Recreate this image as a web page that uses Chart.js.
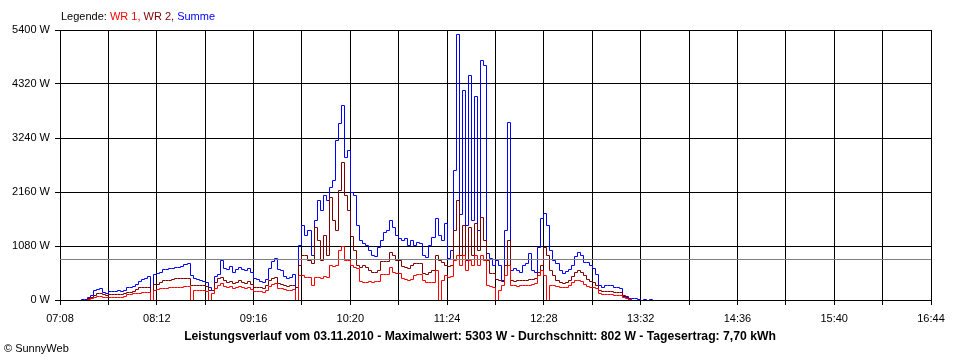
<!DOCTYPE html>
<html><head><meta charset="utf-8">
<script src="https://cdn.jsdelivr.net/npm/chart.js@4"></script>
<style>html,body{margin:0;padding:0;background:#fff;} canvas{display:block}</style>
</head><body>
<canvas id="c" width="960" height="360"></canvas>
<script>
const xTickLabels = ["07:08","08:12","09:16","10:20","11:24","12:28","13:32","14:36","15:40","16:44"];
const yTickValues = [0,1080,2160,3240,4320,5400];
const firstSample = "07:20";
const sampleStepMin = 2;
const wr1 = [
0,0,0,20,40,60,80,80,60,60,
60,60,60,60,60,80,120,120,140,140,
140,160,160,160,0,200,220,240,240,240,
260,260,260,260,260,280,280,0,200,200,
200,200,180,0,140,240,300,340,280,260,
280,240,260,280,260,240,260,220,180,180,
180,160,200,280,320,340,240,240,220,200,
200,220,0,500,500,460,460,300,460,460,
440,480,460,700,680,700,1000,1080,800,800,
700,660,640,380,360,360,380,360,380,380,
520,520,520,660,560,540,540,440,420,400,
420,500,520,520,400,360,360,360,600,0,
400,500,460,480,800,900,700,900,600,800,
700,900,700,900,800,300,280,260,0,200,
300,500,700,300,300,280,300,300,300,300,
320,340,500,600,500,0,300,300,280,260,
260,260,300,360,400,400,380,320,280,260,
260,240,140,120,120,120,110,100,100,100,
60,40,20,0,0,0,0,0,0,0,0];
const wr2 = [
0,0,0,40,60,100,140,140,120,100,
120,120,120,120,120,140,160,160,180,220,
260,260,260,260,0,320,320,360,400,400,
400,420,440,440,440,440,440,300,300,300,
300,300,280,200,200,360,440,460,400,360,
380,340,360,400,360,340,380,320,260,260,
260,240,300,400,440,460,340,320,300,280,
300,300,260,700,900,900,800,740,1460,1200,
800,1300,900,2060,1600,1400,2200,2760,2100,1800,
1260,1000,700,660,700,660,600,560,560,600,
780,780,780,950,900,800,800,680,660,640,
700,740,740,740,540,520,560,600,900,800,
750,700,680,700,1400,2000,900,1500,800,1460,
900,1540,1000,1660,1200,800,540,540,420,400,
380,700,1200,400,380,400,400,400,400,420,
420,440,560,700,1060,900,600,500,400,360,
340,360,400,480,560,600,560,500,420,380,
360,300,200,180,180,180,170,160,160,160,
100,60,20,0,0,0,0,0,0,0,0];
const summe = [
0,20,20,60,100,200,220,240,160,140,
180,180,180,200,180,200,260,260,280,320,
380,420,440,480,0,520,540,560,620,620,
640,640,660,660,680,720,740,500,440,420,
400,380,360,260,200,480,520,800,640,620,
680,560,620,660,620,600,640,560,440,420,
380,360,420,640,780,840,620,600,480,440,
460,520,0,1100,1500,1300,1400,900,1600,2000,
1800,2100,2000,2260,2400,3200,3540,3880,2860,3000,
2140,2100,1500,1200,1140,1100,1000,900,880,1060,
1200,1350,1400,1600,1450,1300,1240,1200,1240,1100,
1200,1100,1160,1140,900,860,1100,1250,1640,1300,
1200,1540,840,1000,2600,5303,1700,4200,1500,4500,
1600,4060,1400,4800,4700,940,840,700,800,700,
400,1400,3560,600,640,600,560,700,740,940,
600,560,1060,1640,1740,1500,1000,800,740,600,
540,580,620,700,880,960,900,760,760,700,
640,520,300,260,300,300,300,260,260,240,
80,80,40,40,40,20,0,20,0,20,0];
const averageW = 802;
const seriesNames = ["WR 1","WR 2","Summe"];
const legendTitle = "Legende:";
const titleText = "Leistungsverlauf vom 03.11.2010 - Maximalwert: 5303 W - Durchschnitt: 802 W - Tagesertrag: 7,70 kWh";
const copyrightText = "\u00A9 SunnyWeb";

const colors = ["#ff0000","#800000","#0000ff"];
const FONT = "'Liberation Sans', Arial, sans-serif";

function toMin(s){const p=s.split(':').map(Number);return p[0]*60+p[1];}
const axisMin = toMin(xTickLabels[0]);
const axisMax = toMin(xTickLabels[xTickLabels.length-1]);
const labelStep = toMin(xTickLabels[1]) - axisMin;
const gridStep = labelStep/2;
const t0 = toMin(firstSample);
const pts = arr => arr.map((v,i)=>({x:t0+i*sampleStepMin, y:v}));

// snap line vertices to pixel centres so the 1px lines stay crisp
const snapR = v => Math.floor(v) + 0.5;
const snapTargets = [CanvasRenderingContext2D.prototype];
if (typeof Path2D === 'function') snapTargets.push(Path2D.prototype);
const snap = {
  id:'snap',
  beforeDatasetsDraw(){
    snapTargets.forEach(p=>{
      const m = p.moveTo, l = p.lineTo;
      p.__orig = [m,l];
      p.moveTo = function(x,y){ return m.call(this, snapR(x), snapR(y)); };
      p.lineTo = function(x,y){ return l.call(this, snapR(x), snapR(y)); };
    });
  },
  afterDatasetsDraw(){
    snapTargets.forEach(p=>{ if (p.__orig){ p.moveTo = p.__orig[0]; p.lineTo = p.__orig[1]; delete p.__orig; } });
  }
};

const overlay = {
  id:'overlay',
  afterDatasetsDraw(chart){
    const {ctx, chartArea:a, scales:{y}} = chart;
    const yy = Math.round(y.getPixelForValue(averageW)) - 0.5;
    ctx.save();
    ctx.strokeStyle = '#808080'; ctx.lineWidth = 1;
    ctx.beginPath(); ctx.moveTo(a.left, yy); ctx.lineTo(a.right, yy); ctx.stroke();
    ctx.restore();
  },
  afterDraw(chart){
    const ctx = chart.ctx;
    ctx.save();
    ctx.textBaseline = 'middle';
    ctx.font = "11px " + FONT;
    let x = 61;
    const parts = [[legendTitle + " ", "#000"]];
    seriesNames.forEach((n,i)=>parts.push([n + (i<seriesNames.length-1 ? ", " : ""), colors[i]]));
    parts.forEach(p=>{ ctx.fillStyle=p[1]; ctx.fillText(p[0], x, 17); x += ctx.measureText(p[0]).width; });
    ctx.font = "bold 12.2px " + FONT;
    ctx.fillStyle = '#000';
    ctx.textAlign = 'center';
    ctx.fillText(titleText, 480, 337);
    ctx.textAlign = 'left';
    ctx.font = "11px " + FONT;
    ctx.fillText(copyrightText, 4, 349);
    ctx.restore();
  }
};

new Chart(document.getElementById('c'), {
  type: 'line',
  data: {
    datasets: [
      {label: seriesNames[0], data: pts(wr1), borderColor: colors[0]},
      {label: seriesNames[1], data: pts(wr2), borderColor: colors[1]},
      {label: seriesNames[2], data: pts(summe), borderColor: colors[2]}
    ].map(d=>Object.assign(d,{borderWidth:1, pointRadius:0, stepped:true, fill:false, tension:0}))
  },
  options: {
    responsive: false, animation: false, devicePixelRatio: 1,
    layout: {padding: {left:0, right:29, top:30, bottom:0}},
    plugins: {legend:{display:false}, tooltip:{enabled:false}, title:{display:false}},
    scales: {
      x: {
        type:'linear', min:axisMin, max:axisMax,
        afterBuildTicks(s){ const t=[]; for(let v=axisMin; v<=axisMax; v+=gridStep) t.push({value:v}); s.ticks=t; },
        afterFit(s){ s.height = 60; },
        grid:{color:'#000', lineWidth:1, tickLength:5, tickColor:'#000', drawTicks:true},
        border:{color:'#000', width:1},
        ticks:{autoSkip:false, maxRotation:0, color:'#000', padding:7, font:{family:FONT, size:11},
          callback(v){ const k=(v-axisMin)/labelStep; return Number.isInteger(k) ? xTickLabels[k] : ''; }}
      },
      y: {
        type:'linear', min:yTickValues[0], max:yTickValues[yTickValues.length-1],
        afterBuildTicks(s){ s.ticks = yTickValues.map(v=>({value:v})); },
        afterFit(s){ s.width = 60; },
        grid:{color:'#000', lineWidth:1, tickLength:5, tickColor:'#000', drawTicks:true},
        border:{color:'#000', width:1},
        ticks:{color:'#000', padding:5, font:{family:FONT, size:11}, callback(v){ return v + ' W'; }}
      }
    }
  },
  plugins: [snap, overlay]
});
</script>
</body></html>
